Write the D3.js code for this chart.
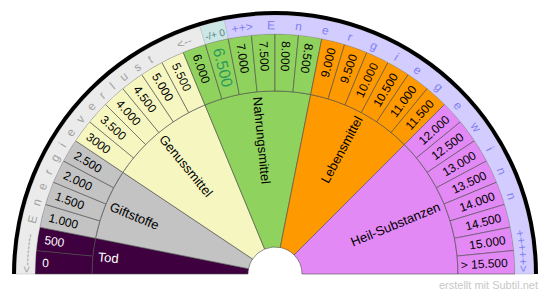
<!DOCTYPE html>
<html>
<head>
<meta charset="utf-8">
<script src="https://cdn.jsdelivr.net/npm/d3@7"></script>
<style>
  body { margin: 0; background: #fff; }
  svg { display: block; font-family: "Liberation Sans", Arial, sans-serif; }
</style>
</head>
<body>
<div class="chart"></div>
<script>
"use strict";

// scale values, one cell each, left to right
const valueLabels = ["0", "500", "1.000", "1.500", "2.000", "2.500", "3000", "3.500",
    "4.000", "4.500", "5.000", "5.500", "6.000", "6.500", "7.000", "7.500", "8.000",
    "8.500", "9.000", "9.500", "10.000", "10.500", "11.000", "11.500", "12.000",
    "12.500", "13.000", "13.500", "14.000", "14.500", "15.000", "> 15.500"];

const categories = ["Tod", "Giftstoffe", "Genussmittel", "Nahrungsmittel", "Lebensmittel", "Heil-Substanzen"];
const categoryCells = [2, 4, 6, 6, 6, 8];
const neutralValue = "6.500";
const neutralText = "-/+ 0";
const lossTexts = ["<--------", "Energieverlust", "<--"];
const gainTexts = ["++>", "Energiegewinn", "+++++>"];
const footer = "erstellt mit Subtil.net";

const catColors = ["#3e003e", "#c3c3c3", "#f6f6c0", "#90d25e", "#ff9900", "#e389f6"];
const catText = ["#fff", "#000", "#000", "#000", "#000", "#000"];

const W = 550, H = 297, cx = 275, cy = 274;
const rHole = 27, rCat = 183, rVal = 240, rRing = 259, rEdge = 263;

const svg = d3.select(".chart").append("svg").attr("width", W).attr("height", H);
const g = svg.append("g").attr("transform", `translate(${cx},${cy})`);

const x = d3.scaleBand().domain(valueLabels).range([-Math.PI / 2, Math.PI / 2]).padding(0);
const bw = x.bandwidth();

// which category each cell belongs to
const cellCat = [];
categoryCells.forEach((n, i) => { for (let k = 0; k < n; k++) cellCat.push(i); });
let acc = 0;
const catSpans = categories.map((c, i) => {
    const s = { name: c, i: i, start: x(valueLabels[acc]), end: x(valueLabels[acc + categoryCells[i] - 1]) + bw };
    acc += categoryCells[i];
    return s;
});

const arc = d3.arc();
const deg = a => a * 180 / Math.PI;

// category wedges
g.selectAll(".cat").data(catSpans).enter().append("path")
    .attr("d", d => arc({ innerRadius: rHole, outerRadius: rCat, startAngle: d.start, endAngle: d.end }))
    .attr("fill", d => catColors[d.i])
    .attr("stroke", "#4a4a4a").attr("stroke-width", 0.6);

// value cells
g.selectAll(".cell").data(valueLabels).enter().append("path")
    .attr("d", d => arc({ innerRadius: rCat, outerRadius: rVal, startAngle: x(d), endAngle: x(d) + bw }))
    .attr("fill", (d, i) => catColors[cellCat[i]])
    .attr("stroke", "#4a4a4a").attr("stroke-width", 0.6);

// outer ring: loss / neutral / gain
const nA = x(neutralValue);
const ring = [
    { s: -Math.PI / 2, e: nA, fill: "#ebebeb" },
    { s: nA, e: nA + bw, fill: "#cce6e6" },
    { s: nA + bw, e: Math.PI / 2, fill: "#d3ccff" }
];
g.selectAll(".ring").data(ring).enter().append("path")
    .attr("d", d => arc({ innerRadius: rVal, outerRadius: rRing, startAngle: d.s, endAngle: d.e }))
    .attr("fill", d => d.fill)
    .attr("stroke", "#aaa").attr("stroke-width", 0.4);

g.append("path")
    .attr("d", arc({ innerRadius: rRing, outerRadius: rEdge, startAngle: -Math.PI / 2, endAngle: Math.PI / 2 }))
    .attr("fill", "#000");

// radial labels
const flip = a => a > 0.18;
function radial(sel, r) {
    sel.attr("transform", d => {
        const a = d.a;
        const px = Math.sin(a) * r, py = -Math.cos(a) * r;
        const rot = flip(a) ? deg(a) - 90 : deg(a) + 90;
        return `translate(${px},${py}) rotate(${rot})`;
    })
        .attr("text-anchor", d => flip(d.a) ? "end" : "start")
        .attr("dy", "0.36em");
}

g.selectAll(".vlab").data(valueLabels.map((v, i) => ({ v: v, i: i, a: x(v) + bw / 2 })))
    .enter().append("text")
    .call(radial, 233)
    .attr("font-size", d => d.v === neutralValue ? 16 : 12)
    .attr("fill", d => d.v === neutralValue ? "#2a9a5c" : catText[cellCat[d.i]])
    .text(d => d.v);

g.selectAll(".clab").data(catSpans.map(d => ({ name: d.name, i: d.i, a: (d.start + d.end) / 2 })))
    .enter().append("text")
    .call(radial, 178)
    .attr("font-size", 13)
    .attr("fill", d => catText[d.i])
    .text(d => d.name);

// neutral marker in ring
const na = nA + bw / 2, nr = 247;
g.append("text")
    .attr("transform", `translate(${Math.sin(na) * nr},${-Math.cos(na) * nr}) rotate(${deg(na)})`)
    .attr("text-anchor", "middle").attr("dy", "0.35em")
    .attr("font-size", 10).attr("fill", "#4e8484")
    .text(neutralText);

// ring text along the arc
const rt = 244.5;
const rp = d3.path();
rp.arc(0, 0, rt, Math.PI, 2 * Math.PI);
g.append("defs").append("path").attr("id", "ringPath").attr("d", rp.toString());

const lossPos = [{ off: 1, ls: 0 }, { off: 50, ls: 10 }, { off: 285, ls: 0 }];
const gainPos = [{ off: 341, ls: 0 }, { off: 376, ls: 19.8 }, { off: 724, ls: 0 }];
function ringText(texts, pos, color) {
    texts.forEach((t, i) => {
        g.append("text")
            .attr("font-size", 12)
            .attr("fill", color)
            .attr("letter-spacing", pos[i].ls)
            .append("textPath")
            .attr("href", "#ringPath")
            .attr("startOffset", pos[i].off)
            .text(t);
    });
}
ringText(lossTexts, lossPos, "#a2a2a2");
ringText(gainTexts, gainPos, "#7f7ff2");

// footer
svg.append("text")
    .attr("x", 538).attr("y", 289)
    .attr("text-anchor", "end")
    .attr("font-size", 11)
    .attr("fill", "#c8c8c8")
    .text(footer);
</script>
</body>
</html>
